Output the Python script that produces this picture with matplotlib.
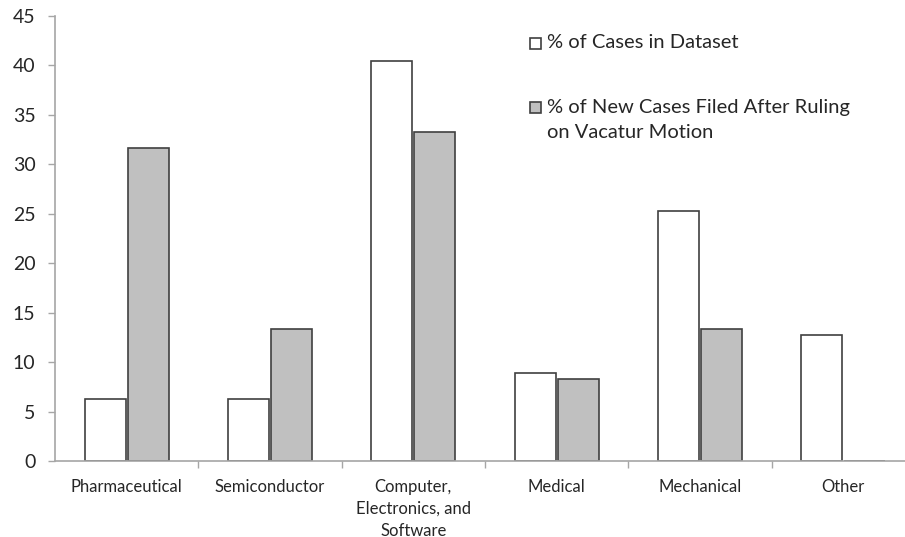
# Bar chart: share of cases by technology area
import matplotlib.pyplot as plt
from matplotlib.patches import Rectangle
import numpy as np

plt.rcParams['font.family'] = ['Lato', 'DejaVu Sans']

# Data
categories = ['Pharmaceutical', 'Semiconductor', 'Computer,\nElectronics, and\nSoftware',
              'Medical', 'Mechanical', 'Other']
pct_dataset = [6.3, 6.3, 40.5, 8.9, 25.3, 12.7]
pct_new_cases = [31.7, 13.3, 33.3, 8.3, 13.3, 0]
legend_labels = ['% of Cases in Dataset', '% of New Cases Filed After Ruling', 'on Vacatur Motion']

text_col = '#262626'
edge_col = '#404040'
axis_col = '#a6a6a6'

fig = plt.figure(figsize=(9.05, 5.37), dpi=100)
ax = fig.add_axes([55 / 905, 76 / 537, 860 / 905, 445 / 537])

x = np.arange(len(categories)) + 0.5
w = 0.285
ax.bar(x - 0.15, pct_dataset, w, color='white', edgecolor=edge_col, linewidth=1.2)
ax.bar(x + 0.15, pct_new_cases, w, color='#c0c0c0', edgecolor=edge_col, linewidth=1.2)

ax.set_xlim(0, len(categories))
ax.set_ylim(0, 45)
ax.set_yticks(np.arange(0, 46, 5))

# category boundaries as ticks, labels at centres
ax.set_xticks(np.arange(1, len(categories)))
ax.set_xticklabels([])
ax.set_xticks(x, minor=True)
ax.set_xticklabels(categories, minor=True, fontsize=12, color=text_col, linespacing=1.45)
ax.tick_params(axis='x', which='minor', length=0, pad=13)
ax.tick_params(axis='x', which='major', length=5, color=axis_col, width=1)
ax.tick_params(axis='y', length=5, color=axis_col, width=1, labelsize=14,
               labelcolor=text_col, pad=9)

for s in ['top', 'right']:
    ax.spines[s].set_visible(False)
for s in ['left', 'bottom']:
    ax.spines[s].set_color(axis_col)
    ax.spines[s].set_linewidth(1.2)
    ax.spines[s].set_zorder(3)

# legend drawn by hand so the swatch sits on the first line
fig.patches.append(Rectangle((530 / 905, 1 - 49 / 537), 11 / 905, 11 / 537,
                             transform=fig.transFigure, facecolor='white',
                             edgecolor=edge_col, linewidth=1.2))
fig.patches.append(Rectangle((530 / 905, 1 - 113 / 537), 11 / 905, 11 / 537,
                             transform=fig.transFigure, facecolor='#c0c0c0',
                             edgecolor=edge_col, linewidth=1.2))
fig.text(547 / 905, 1 - 43 / 537, legend_labels[0], fontsize=14.5, color=text_col, va='center')
fig.text(547 / 905, 1 - 107 / 537, legend_labels[1], fontsize=14.5, color=text_col, va='center')
fig.text(547 / 905, 1 - 132 / 537, legend_labels[2], fontsize=14.5, color=text_col, va='center')

fig.savefig('out.png', dpi=100)
